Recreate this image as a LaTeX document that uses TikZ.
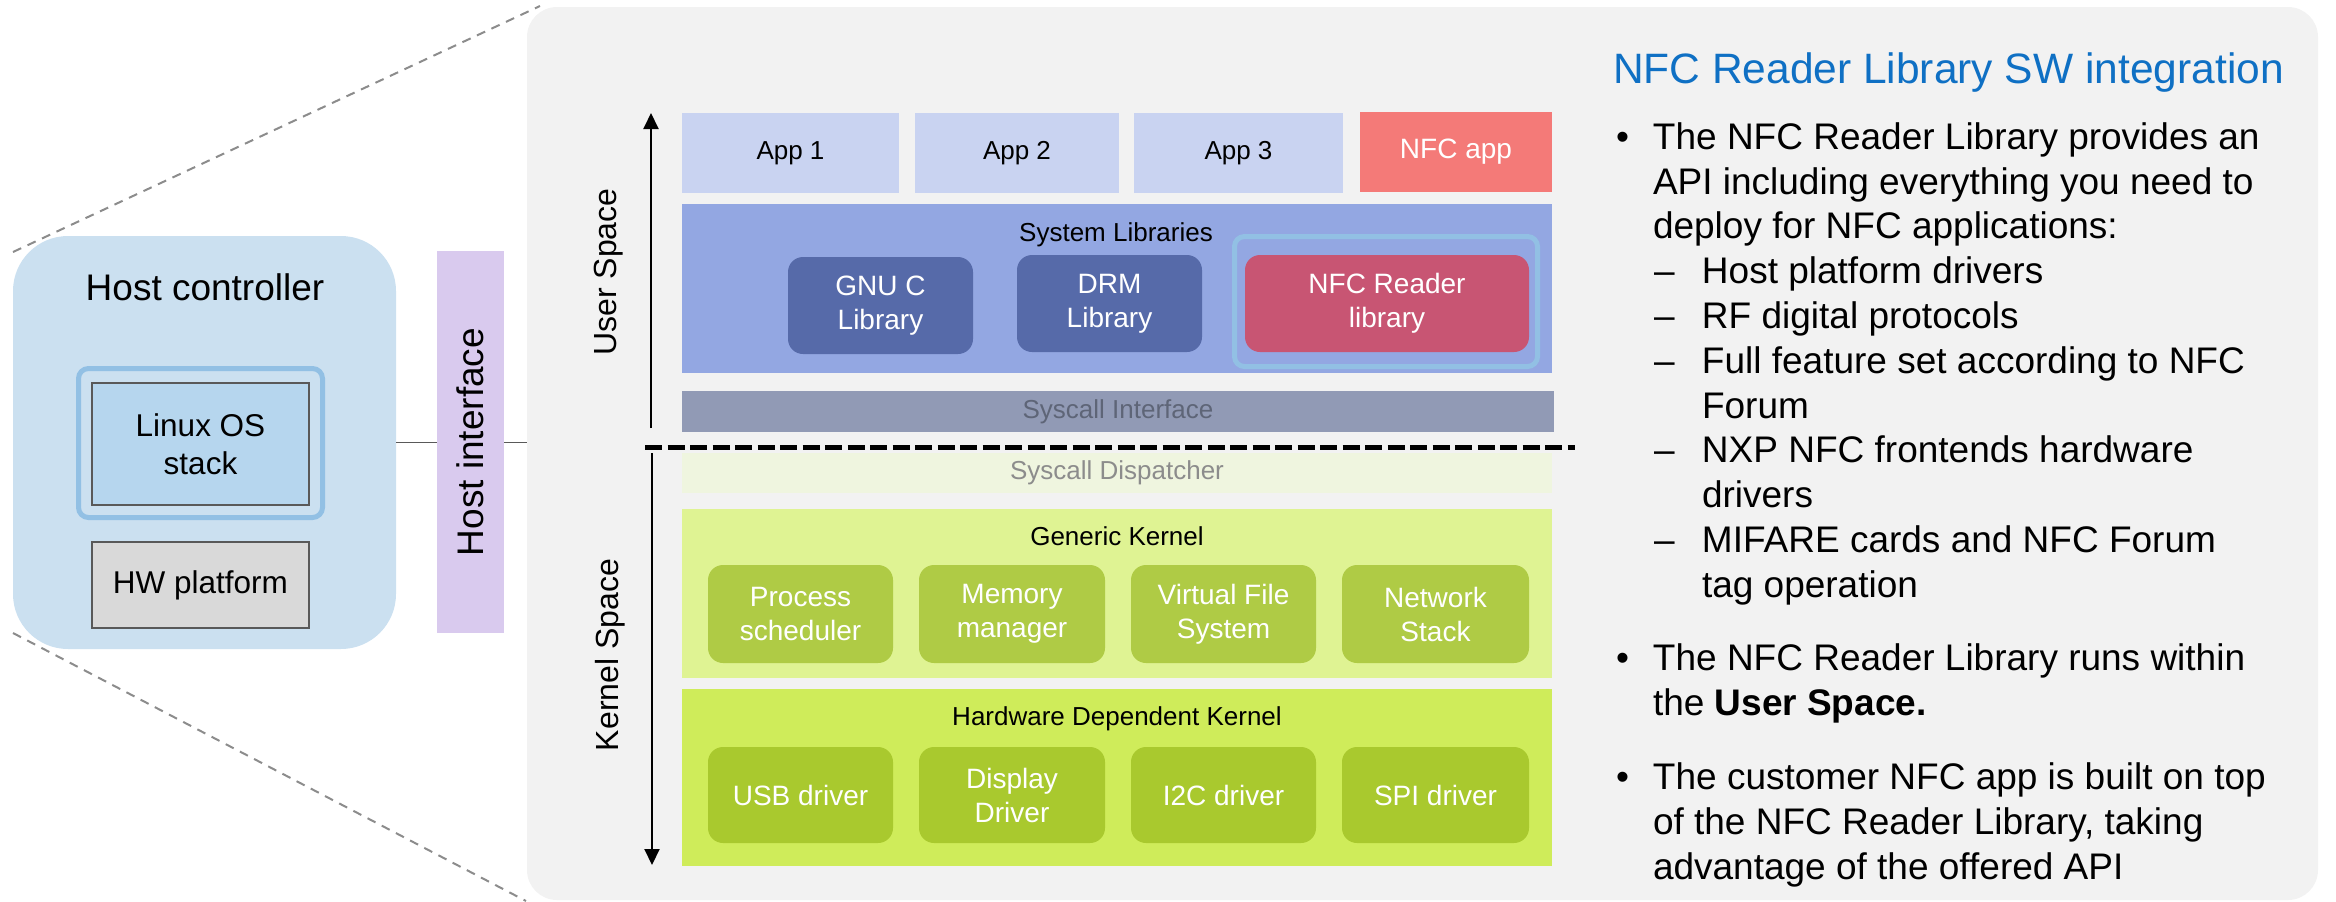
\documentclass[tikz,border=0pt]{standalone}
\usepackage{fontspec}
\setmainfont{Liberation Sans}
\usetikzlibrary{arrows.meta,calc}

\definecolor{hostbg}{HTML}{CBE0F0}
\definecolor{glow}{HTML}{92C0E4}
\definecolor{linuxbg}{HTML}{B6D6EE}
\definecolor{hwbg}{HTML}{D9D9D9}
\definecolor{edgegray}{HTML}{595959}
\definecolor{ifbg}{HTML}{D9CAEE}
\definecolor{panelbg}{HTML}{F2F2F2}
\definecolor{appbg}{HTML}{C9D3F1}
\definecolor{nfcappbg}{HTML}{F47A78}
\definecolor{syslibbg}{HTML}{93A7E2}
\definecolor{libbg}{HTML}{566AA9}
\definecolor{nfclibbg}{HTML}{C85573}
\definecolor{sysifbg}{HTML}{919AB5}
\definecolor{sysiftext}{HTML}{5E6577}
\definecolor{dispbg}{HTML}{EFF5DF}
\definecolor{disptext}{HTML}{8C8C8C}
\definecolor{genbg}{HTML}{DFF393}
\definecolor{genbox}{HTML}{AFCB45}
\definecolor{hwkbg}{HTML}{CFEC5A}
\definecolor{hwkbox}{HTML}{A9C92E}
\definecolor{titleblue}{HTML}{0F70C4}
\definecolor{zoomgray}{HTML}{8C8C8C}

\newcommand{\bulletmark}{\llap{\textbullet\hspace{12pt}}}
\newcommand{\dashmark}{\llap{–\hspace{13.7pt}}}

\begin{document}
\begin{tikzpicture}[x=0.5pt,y=-0.5pt,
  every node/.style={inner sep=0pt, outer sep=0pt},
  % a rectangle given by its corners (x1,y1) and (x2,y2)
  area/.style n args={4}{anchor=center,
    at={({(#1+#3)/2},{(#2+#4)/2})},
    minimum width={(#3-#1)*0.5pt},
    minimum height={(#4-#2)*0.5pt}},
  blk/.style={align=center, font=\fontsize{13}{16}\selectfont},
  inbox/.style={blk, rounded corners=7.5pt, text=white, font=\fontsize{14}{17}\selectfont},
  txt/.style={anchor=base west, font=\fontsize{18.5}{22.4}\selectfont},
  zoomline/.style={draw=zoomgray, line width=1pt, dash pattern=on 4.5pt off 3.5pt},
  link/.style={draw=edgegray, line width=0.75pt},
  spacearrow/.style={line width=1pt, -{Triangle[length=8pt,width=7.5pt]}},
]
\useasboundingbox (0,0) rectangle (2336,901);

% zoom lines from the host controller to the software panel
\coordinate (zt1) at (13,252);
\coordinate (zt2) at (540,6);
\coordinate (zb1) at (13,633);
\coordinate (zb2) at (526,901);
\draw[zoomline] (zt1) -- (zt2);
\draw[zoomline] (zb1) -- (zb2);

% software panel
\node[fill=panelbg, rounded corners=15pt, area={527}{7}{2318}{900}] (panel) {};

% host controller side
\node[fill=hostbg, rounded corners=27.5pt, area={13}{236}{396}{649}] (hc) {};
\node[anchor=base, font=\fontsize{18.5}{22}\selectfont] (hctitle) at (205,300) {Host controller};
\node[draw=glow, line width=2.5pt, rounded corners=5pt, area={78.5}{368.5}{322.5}{517.5}] (linuxglow) {};
\node[fill=linuxbg, draw=edgegray, line width=0.75pt, align=center,
      font=\fontsize{15.75}{19}\selectfont, area={92}{383}{309}{505}] (linux) {Linux OS\\stack};
\node[fill=hwbg, draw=edgegray, line width=0.75pt,
      font=\fontsize{15.75}{19}\selectfont, area={92}{542}{309}{628}] (hw) {HW platform};
\node[fill=ifbg, area={437}{251}{504}{633}] (hi) {};
\node[rotate=90, font=\fontsize{18.5}{22}\selectfont] (hilabel) at (hi.center) {Host interface};
\draw[link] (hc.east) -- (hc.east -| hi.west);
\draw[link] (hc.east -| hi.east) -- (hc.east -| panel.west);

% user / kernel space arrows
\coordinate (usbot) at (651,428);
\coordinate (ustop) at (651,113);
\coordinate (kstop) at (652,453);
\coordinate (ksbot) at (652,865);
\draw[spacearrow] (usbot) -- (ustop);
\draw[spacearrow] (kstop) -- (ksbot);
\node[rotate=90, font=\fontsize{16}{19}\selectfont] (uslabel) at (609,272) {User Space};
\node[rotate=90, font=\fontsize{16}{19}\selectfont] (kslabel) at (610,655) {Kernel Space};

% applications
\node[blk, fill=appbg, area={682}{113}{899}{193}] (app1) {App 1};
\node[blk, fill=appbg, area={915}{113}{1119}{193}] (app2) {App 2};
\node[blk, fill=appbg, area={1134}{113}{1343}{193}] (app3) {App 3};
\node[blk, fill=nfcappbg, text=white, font=\fontsize{14}{17}\selectfont,
      area={1360}{112}{1552}{192}] (nfcapp) {NFC app};

% system libraries
\node[fill=syslibbg, area={682}{204}{1552}{373}] (syslib) {};
\node[blk, anchor=base] (syslibtitle) at (1116,241) {System Libraries};
\node[inbox, fill=libbg, area={788}{257}{973}{354}] (gnuc) {GNU C\\Library};
\node[inbox, fill=libbg, area={1017}{255}{1202}{352}] (drm) {DRM\\Library};
\node[draw=glow, line width=2.5pt, rounded corners=5pt,
      area={1234.5}{236.5}{1537.5}{366.5}] (nfcglow) {};
\node[inbox, fill=nfclibbg, area={1245}{255}{1529}{352}] (nfclib) {NFC Reader\\library};

% syscall layer and user/kernel boundary
\node[blk, fill=sysifbg, text=sysiftext, area={682}{391}{1554}{432}] (sysif) {Syscall Interface};
\coordinate (divl) at (645,447);
\coordinate (divr) at (1575,447);
\draw[line width=2.5pt, dash pattern=on 8.5pt off 2.75pt] (divl) -- (divr);
\node[blk, fill=dispbg, text=disptext, area={682}{453}{1552}{493}] (sysdisp) {Syscall Dispatcher};

% generic kernel
\node[fill=genbg, area={682}{509}{1552}{678}] (gen) {};
\node[blk, anchor=base] (gentitle) at (1117,545) {Generic Kernel};
\node[inbox, fill=genbox, area={708}{565}{893}{663}] (proc) {Process\\scheduler};
\node[inbox, fill=genbox, area={919}{565}{1105}{663}] (mem) {Memory\\manager};
\node[inbox, fill=genbox, area={1131}{565}{1316}{663}] (vfs) {Virtual File\\System};
\node[inbox, fill=genbox, area={1342}{565}{1529}{663}] (net) {Network\\Stack};

% hardware dependent kernel
\node[fill=hwkbg, area={682}{689}{1552}{866}] (hwk) {};
\node[blk, anchor=base] (hwktitle) at (1117,725) {Hardware Dependent Kernel};
\node[inbox, fill=hwkbox, area={708}{747}{893}{843}] (usb) {USB driver};
\node[inbox, fill=hwkbox, area={919}{747}{1105}{843}] (disp) {Display\\Driver};
\node[inbox, fill=hwkbox, area={1131}{747}{1316}{843}] (i2c) {I2C driver};
\node[inbox, fill=hwkbox, area={1342}{747}{1529}{843}] (spi) {SPI driver};

% description text
\node[anchor=base west, text=titleblue, font=\fontsize{21.25}{25}\selectfont] (title) at (1613,83)
  {NFC Reader Library SW integration};
\node[txt] (l1) at (1653,149.3) {\bulletmark The NFC Reader Library provides an};
\node[txt] (l2) at (1653,194.1) {API including everything you need to};
\node[txt] (l3) at (1653,238.9) {deploy for NFC applications:};
\node[txt] (l4) at (1702,283.7) {\dashmark Host platform drivers};
\node[txt] (l5) at (1702,328.5) {\dashmark RF digital protocols};
\node[txt] (l6) at (1702,373.3) {\dashmark Full feature set according to NFC};
\node[txt] (l7) at (1702,418.1) {Forum};
\node[txt] (l8) at (1702,462.9) {\dashmark NXP NFC frontends hardware};
\node[txt] (l9) at (1702,507.7) {drivers};
\node[txt] (l10) at (1702,552.5) {\dashmark MIFARE cards and NFC Forum};
\node[txt] (l11) at (1702,597.3) {tag operation};
\node[txt] (l12) at (1653,670.5) {\bulletmark The NFC Reader Library runs within};
\node[txt] (l13) at (1653,715.3) {the \textbf{User Space.}};
\node[txt] (l14) at (1653,789.5) {\bulletmark The customer NFC app is built on top};
\node[txt] (l15) at (1653,834.3) {of the NFC Reader Library, taking};
\node[txt] (l16) at (1653,879.0) {advantage of the offered API};
\end{tikzpicture}
\end{document}
